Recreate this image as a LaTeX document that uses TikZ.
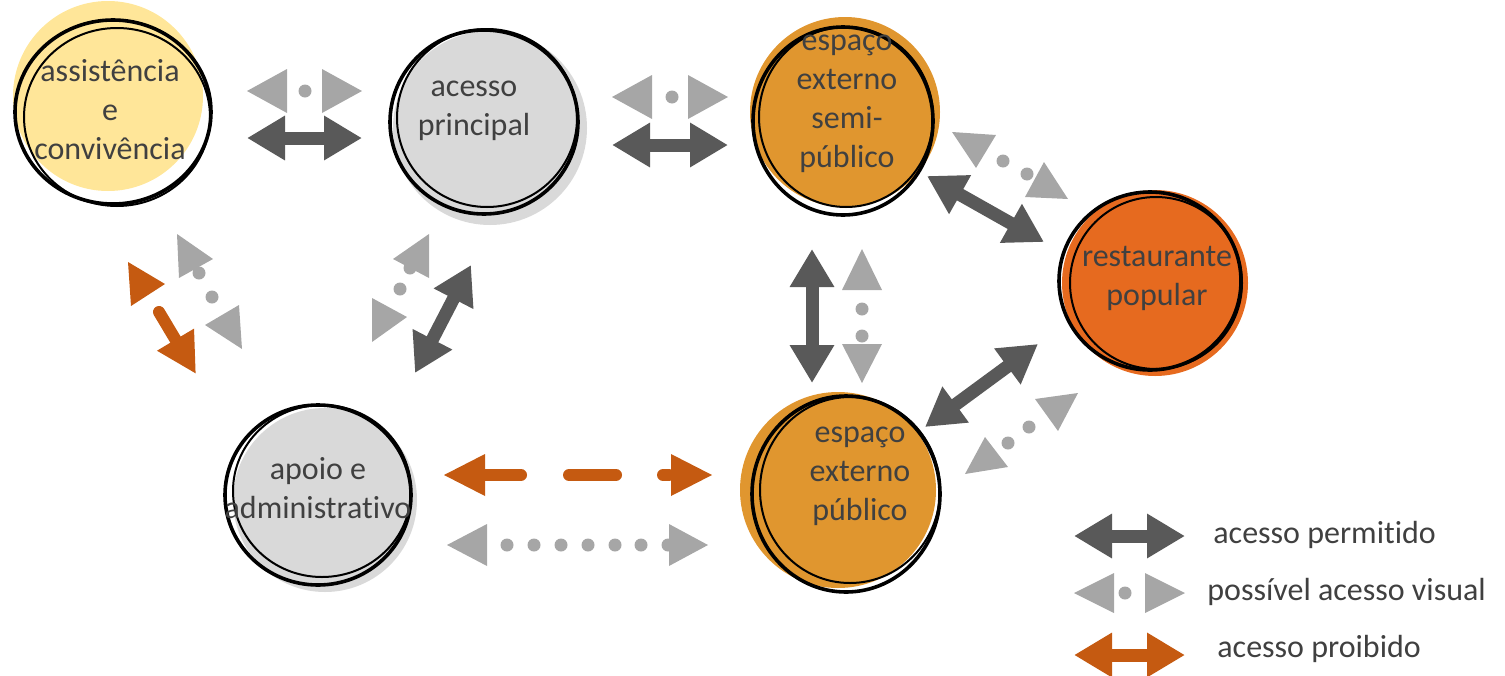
\documentclass[tikz,border=0pt]{standalone}
\usepackage{fontspec}
\setmainfont{Carlito}[Ligatures=NoCommon]
\usetikzlibrary{arrows.meta}
\definecolor{txt}{HTML}{404040}
\definecolor{dgray}{HTML}{595959}
\definecolor{lgray}{HTML}{A6A6A6}
\definecolor{forb}{HTML}{C55A11}
\definecolor{yel}{HTML}{FFE699}
\definecolor{cgray}{HTML}{D9D9D9}
\definecolor{semic}{HTML}{E0962F}
\definecolor{restc}{HTML}{E66A1F}
\tikzset{
  lbl/.style={font=\fontsize{16pt}{19.5pt}\selectfont, text=txt, align=center, inner sep=0pt},
  leg/.style={font=\fontsize{16pt}{19.5pt}\selectfont, text=txt, inner sep=0pt, anchor=base west},
  sk/.style={draw=black, line width=1.8pt},
  skt/.style={draw=black, line width=1pt},
  okarrow/.style={draw=dgray, line width=6.5pt, {Triangle[length=19pt,width=21pt]}-{Triangle[length=19pt,width=21pt]}},
  noarrow/.style={draw=forb, line width=6.5pt, {Triangle[length=19pt,width=21pt]}-{Triangle[length=19pt,width=21pt]}},
  vis/.style={fill=lgray},
  forbfill/.style={fill=forb},
  forbdash/.style={draw=forb, line width=6pt, line cap=round}
}
\begin{document}
\begin{tikzpicture}[x=0.5pt,y=-0.5pt]
\useasboundingbox (0,0) rectangle (1505,675);

% ---- circles: fills ----
\fill[yel] (108,96) circle (95);
\fill[cgray] (490,128) circle (97);
\fill[semic] (845,112) circle (95);
\fill[restc] (1155,283) circle (93);
\fill[semic] (838,490) circle (98);
\fill[cgray] (325,500) circle (92);

% ---- circles: sketchy outlines ----
\draw[sk] (113,112) ellipse [x radius=98, y radius=92];
\draw[skt] (117,117) ellipse [x radius=93, y radius=89];
\draw[sk] (484,122) ellipse [x radius=94, y radius=92];
\draw[skt] (487,118) ellipse [x radius=90, y radius=89];
\draw[sk] (843,121) ellipse [x radius=90, y radius=94];
\draw[skt] (846,117) ellipse [x radius=87, y radius=90];
\draw[sk] (1150,281) ellipse [x radius=91, y radius=89];
\draw[skt] (1156,283) ellipse [x radius=86, y radius=86];
\draw[sk] (846,494) ellipse [x radius=94, y radius=98];
\draw[skt] (850,490) ellipse [x radius=90, y radius=93];
\draw[sk] (318,495) ellipse [x radius=93, y radius=90];
\draw[skt] (322,491) ellipse [x radius=89, y radius=86];

% ---- labels ----
\node[lbl] (asst) at (110,110) {assistência\\e\\convivência};
\node[lbl] (ap) at (474,111) {acesso\\principal};
\node[lbl] (semi) at (847,104) {espaço\\externo\\semi-\\público};
\node[lbl] (rest) at (1157,278) {restaurante\\popular};
\node[lbl] (pub) at (860,476) {espaço\\externo\\público};
\node[lbl] (apoio) at (318,488) {apoio e\\administrativo};

% ---- assistencia <-> acesso principal ----
\fill[vis] (247,91) -- (287,69) -- (287,113) -- cycle;
\fill[vis] (362,91) -- (322,69) -- (322,113) -- cycle;
\fill[vis] (305,91) circle (6.5);
\coordinate (a1) at (247,138); \coordinate (a2) at (362,138);
\draw[okarrow] (a1) -- (a2);

% ---- acesso principal <-> semi ----
\fill[vis] (612,97) -- (652,75) -- (652,119) -- cycle;
\fill[vis] (728,97) -- (688,75) -- (688,119) -- cycle;
\fill[vis] (672,97) circle (6.5);
\coordinate (b1) at (612,145); \coordinate (b2) at (728,145);
\draw[okarrow] (b1) -- (b2);

% ---- semi <-> restaurante ----
\fill[vis] (952,132) -- (996,135) -- (976,168) -- cycle;
\fill[vis] (1003,161) circle (6.5);
\fill[vis] (1027,174) circle (6.5);
\fill[vis] (1044,162) -- (1025,197) -- (1068,199) -- cycle;
\coordinate (c1) at (927,176); \coordinate (c2) at (1044,242);
\draw[okarrow] (c1) -- (c2);

% ---- semi <-> publico ----
\coordinate (d1) at (812,249); \coordinate (d2) at (812,383);
\draw[okarrow] (d1) -- (d2);
\fill[vis] (862,249) -- (842,290) -- (882,290) -- cycle;
\fill[vis] (862,309) circle (6.5);
\fill[vis] (862,336) circle (6.5);
\fill[vis] (862,383) -- (842,344) -- (882,344) -- cycle;

% ---- publico <-> restaurante ----
\coordinate (e1) at (925,427); \coordinate (e2) at (1038,344);
\draw[okarrow] (e1) -- (e2);
\fill[vis] (965,474) -- (985,437) -- (1008,467) -- cycle;
\fill[vis] (1008,443) circle (6.5);
\fill[vis] (1029,427) circle (6.5);
\fill[vis] (1035,399) -- (1078,393) -- (1058,431) -- cycle;

% ---- assistencia <-> apoio ----
\fill[vis] (199,273) circle (6.5);
\fill[vis] (177,234) -- (213,259) -- (179,278) -- cycle;
\fill[vis] (212,297) circle (6.5);
\fill[vis] (205,325) -- (239,305) -- (242,349) -- cycle;
\fill[forbfill] (128,262) -- (165,284) -- (131,306) -- cycle;
\coordinate (f1) at (159,312); \coordinate (f2) at (196,374);
\draw[draw=forb, line width=6pt, line cap=round, -{Triangle[length=20pt,width=20pt]}] (f1) -- (f2);

% ---- acesso principal <-> apoio ----
\fill[vis] (410,268) circle (6.5);
\fill[vis] (393,259) -- (429,234) -- (429,278) -- cycle;
\fill[vis] (400,289) circle (6.5);
\fill[vis] (372,298) -- (407,317) -- (372,342) -- cycle;
\coordinate (g1) at (471,265); \coordinate (g2) at (415,373);
\draw[okarrow] (g1) -- (g2);

% ---- apoio <-> publico ----
\fill[forbfill] (444,475) -- (485,454) -- (485,496) -- cycle;
\draw[forbdash] (486,475) -- (521,475);
\draw[forbdash] (569,475) -- (616,475);
\draw[forbdash] (663,475) -- (669,475);
\fill[forbfill] (712,475) -- (671,454) -- (671,496) -- cycle;
\fill[vis] (447,545) -- (487,524) -- (487,566) -- cycle;
\foreach \x in {507,534,561,588,615,641,668} \fill[vis] (\x,545) circle (6.5);
\fill[vis] (708,545) -- (669,524) -- (669,566) -- cycle;

% ---- legend ----
\coordinate (l1) at (1074,536); \coordinate (l2) at (1185,536);
\draw[okarrow] (l1) -- (l2);
\fill[vis] (1074,593) -- (1114,573) -- (1114,613) -- cycle;
\fill[vis] (1125,593) circle (6.5);
\fill[vis] (1185,593) -- (1145,573) -- (1145,613) -- cycle;
\coordinate (l3) at (1074,655); \coordinate (l4) at (1185,655);
\draw[noarrow] (l3) -- (l4);
\node[leg] (t1) at (1213,543) {acesso permitido};
\node[leg] (t2) at (1207,600) {possível acesso visual};
\node[leg] (t3) at (1217,657) {acesso proibido};
\end{tikzpicture}
\end{document}
